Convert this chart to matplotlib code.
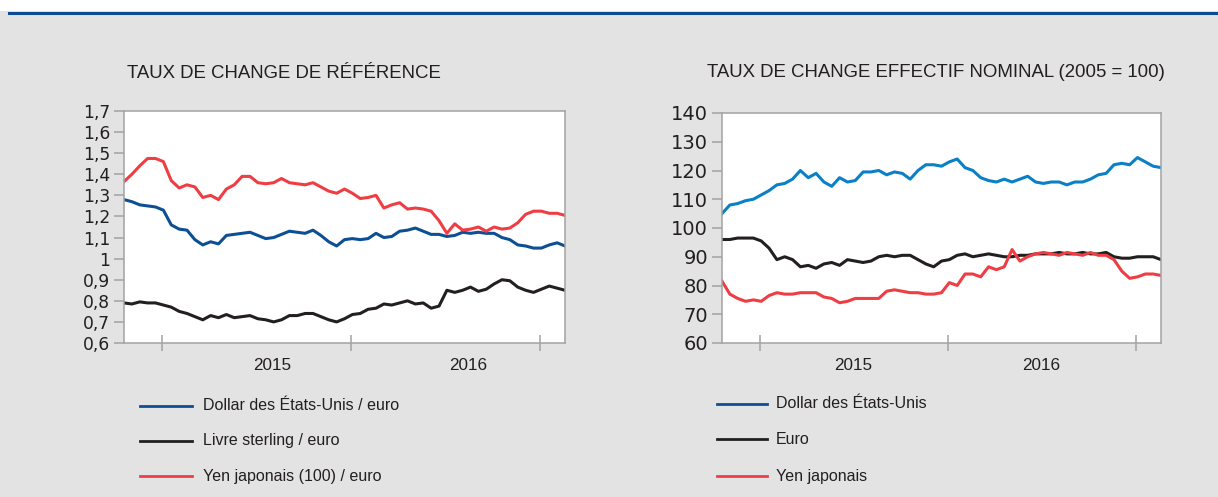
import numpy as np
import pandas as pd
import matplotlib
matplotlib.use("Agg")
import matplotlib.pyplot as plt
from matplotlib.lines import Line2D
from matplotlib.patches import Rectangle

W, H = 1218, 497

# Dates : de fin octobre 2014 à mi-février 2017, un point tous les ~15 jours
dates = pd.date_range("2014-10-20", "2017-02-18", periods=57)

# Taux de change de référence
usd_eur = [1.28, 1.27, 1.255, 1.25, 1.245, 1.23, 1.16, 1.14, 1.135, 1.09,
           1.065, 1.08, 1.07, 1.11, 1.115, 1.12, 1.125, 1.11, 1.095, 1.10,
           1.115, 1.13, 1.125, 1.12, 1.135, 1.11, 1.08, 1.06, 1.09, 1.095,
           1.09, 1.095, 1.12, 1.10, 1.105, 1.13, 1.135, 1.145, 1.13, 1.115,
           1.115, 1.105, 1.11, 1.125, 1.12, 1.125, 1.12, 1.12, 1.10, 1.09,
           1.065, 1.06, 1.05, 1.05, 1.065, 1.075, 1.06]
gbp_eur = [0.79, 0.785, 0.795, 0.79, 0.79, 0.78, 0.77, 0.75, 0.74, 0.725,
           0.71, 0.73, 0.72, 0.735, 0.72, 0.725, 0.73, 0.715, 0.71, 0.70,
           0.71, 0.73, 0.73, 0.74, 0.74, 0.725, 0.71, 0.70, 0.715, 0.735,
           0.74, 0.76, 0.765, 0.785, 0.78, 0.79, 0.80, 0.785, 0.79, 0.765,
           0.775, 0.85, 0.84, 0.85, 0.865, 0.845, 0.855, 0.88, 0.90, 0.895,
           0.865, 0.85, 0.84, 0.855, 0.87, 0.86, 0.85]
jpy_eur = [1.365, 1.40, 1.44, 1.475, 1.475, 1.46, 1.37, 1.335, 1.35, 1.34,
           1.29, 1.30, 1.28, 1.33, 1.35, 1.39, 1.39, 1.36, 1.355, 1.36,
           1.38, 1.36, 1.355, 1.35, 1.36, 1.34, 1.32, 1.31, 1.33, 1.31,
           1.285, 1.29, 1.30, 1.24, 1.255, 1.265, 1.235, 1.24, 1.235, 1.225,
           1.18, 1.12, 1.165, 1.135, 1.14, 1.15, 1.13, 1.15, 1.14, 1.145,
           1.17, 1.21, 1.225, 1.225, 1.215, 1.215, 1.205]

# Taux de change effectif nominal (2005 = 100)
usd_eff = [105, 108, 108.5, 109.5, 110, 111.5, 113, 115, 115.5, 117,
           120, 117.5, 119, 116, 114.5, 117.5, 116, 116.5, 119.5, 119.5,
           120, 118.5, 119.5, 119, 117, 120, 122, 122, 121.5, 123,
           124, 121, 120, 117.5, 116.5, 116, 117, 116, 117, 118,
           116, 115.5, 116, 116, 115, 116, 116, 117, 118.5, 119,
           122, 122.5, 122, 124.5, 123, 121.5, 121]
eur_eff = [96, 96, 96.5, 96.5, 96.5, 95.5, 93, 89, 90, 89,
           86.5, 87, 86, 87.5, 88, 87, 89, 88.5, 88, 88.5,
           90, 90.5, 90, 90.5, 90.5, 89, 87.5, 86.5, 88.5, 89,
           90.5, 91, 90, 90.5, 91, 90.5, 90, 90, 90.5, 90.5,
           91, 91, 91, 91.5, 91, 91, 91.5, 91, 91, 91.5,
           90, 89.5, 89.5, 90, 90, 90, 89]
jpy_eff = [81.5, 77, 75.5, 74.5, 75, 74.5, 76.5, 77.5, 77, 77,
           77.5, 77.5, 77.5, 76, 75.5, 74, 74.5, 75.5, 75.5, 75.5,
           75.5, 78, 78.5, 78, 77.5, 77.5, 77, 77, 77.5, 81,
           80, 84, 84, 83, 86.5, 85.5, 86.5, 92.5, 88.5, 90,
           91, 91.5, 91, 90.5, 91.5, 91, 90.5, 91.5, 90.5, 90.5,
           89, 85, 82.5, 83, 84, 84, 83.5]

left_yticks = [0.6, 0.7, 0.8, 0.9, 1.0, 1.1, 1.2, 1.3, 1.4, 1.5, 1.6, 1.7]
left_ylabels = ["0,6", "0,7", "0,8", "0,9", "1", "1,1", "1,2", "1,3",
                "1,4", "1,5", "1,6", "1,7"]
right_yticks = [60, 70, 80, 90, 100, 110, 120, 130, 140]
year_ticks = pd.to_datetime(["2015-01-01", "2016-01-01", "2017-01-01"])
year_labels = ["2015", "2016"]

DARK_BLUE = "#0d4f94"
LIGHT_BLUE = "#0a80c6"
BLACK = "#231f20"
RED = "#ee3e44"
GRID_GREY = "#a3a3a3"
TEXT = "#231f20"


def fx(x):
    return x / W


def fy(y):
    return 1 - y / H


fig = plt.figure(figsize=(W / 100, H / 100), dpi=100, facecolor="#e3e3e3")

# bandeau du haut
fig.add_artist(Rectangle((0, fy(11)), 1, 11 / H, transform=fig.transFigure,
                         facecolor="white", edgecolor="none"))
fig.add_artist(Line2D([fx(9), 1], [fy(13), fy(13)], transform=fig.transFigure,
                      color="#0b4c92", lw=2.2))


def style_axes(ax, label_dates, ylab_size):
    ax.set_facecolor("white")
    for s in ax.spines.values():
        s.set_color(GRID_GREY)
        s.set_linewidth(1.1)
    ax.set_xlim(dates[0], dates[-1])
    ax.set_xticks(year_ticks)
    ax.set_xticklabels([])
    ax.set_xticks(pd.to_datetime(label_dates), minor=True)
    ax.set_xticklabels(year_labels, minor=True)
    ax.tick_params(axis="x", which="major", direction="inout", length=11,
                   width=1.1, color=GRID_GREY)
    ax.tick_params(axis="x", which="minor", length=0, pad=10.5,
                   labelsize=12.3, labelcolor=TEXT)
    ax.tick_params(axis="y", direction="out", length=7, width=1.1,
                   color=GRID_GREY, pad=3, labelsize=ylab_size,
                   labelcolor=TEXT)
    for lab in ax.get_xticklabels(minor=True):
        lab.set_family("Liberation Sans")
    for lab in ax.get_yticklabels():
        lab.set_family("DejaVu Sans")


# graphique de gauche
ax1 = fig.add_axes([fx(124), fy(343), 441 / W, 232 / H])
ax1.plot(dates, usd_eur, color=DARK_BLUE, lw=2.2)
ax1.plot(dates, gbp_eur, color=BLACK, lw=2.2)
ax1.plot(dates, jpy_eur, color=RED, lw=2.2)
ax1.set_ylim(0.6, 1.7)
ax1.set_yticks(left_yticks)
ax1.set_yticklabels(left_ylabels)
style_axes(ax1, ["2015-08-02", "2016-08-15"], 12.3)

# graphique de droite
ax2 = fig.add_axes([fx(722), fy(343), 439 / W, 230 / H])
ax2.plot(dates, usd_eff, color=LIGHT_BLUE, lw=2.2)
ax2.plot(dates, eur_eff, color=BLACK, lw=2.2)
ax2.plot(dates, jpy_eff, color=RED, lw=2.2)
ax2.set_ylim(60, 140)
ax2.set_yticks(right_yticks)
style_axes(ax2, ["2015-07-01", "2016-07-01"], 14)

# titres
fig.text(fx(127), fy(73), "TAUX DE CHANGE DE RÉFÉRENCE", ha="left",
         va="center", fontsize=13.4, family="Liberation Sans", color=TEXT)
fig.text(fx(707), fy(72), "TAUX DE CHANGE EFFECTIF NOMINAL (2005 = 100)",
         ha="left", va="center", fontsize=13.4, family="Liberation Sans",
         color=TEXT)

# légendes
left_legend = [("Dollar des États-Unis / euro", DARK_BLUE, 406),
               ("Livre sterling / euro", BLACK, 441),
               ("Yen japonais (100) / euro", RED, 476)]
right_legend = [("Dollar des États-Unis", DARK_BLUE, 404),
                ("Euro", BLACK, 439),
                ("Yen japonais", RED, 476)]

for items, x0, x1, xt in [(left_legend, 140, 192, 203),
                          (right_legend, 717, 767, 776)]:
    for label, col, y in items:
        fig.add_artist(Line2D([fx(x0), fx(x1)], [fy(y), fy(y)],
                              transform=fig.transFigure, color=col, lw=2.0))
        fig.text(fx(xt), fy(y), label, ha="left", va="center", fontsize=11.5,
                 family="Liberation Sans", color=TEXT)

fig.savefig("out.png", dpi=100, facecolor=fig.get_facecolor())
